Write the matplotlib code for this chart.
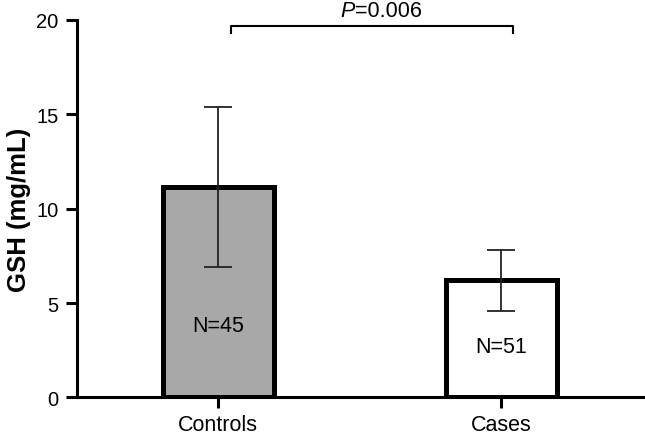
import matplotlib
matplotlib.use('Agg')
from matplotlib import pyplot as plt

# data
groups = ['Controls', 'Cases']
means = [11.15, 6.2]
sds = [4.25, 1.6]
n_labels = ['N=45', 'N=51']
n_pos = [3.8, 2.7]
bar_colors = ['#a8a8a8', 'white']
p_text = 'P=0.006'

plt.rcParams['font.family'] = ['Liberation Sans', 'DejaVu Sans']

fig = plt.figure(figsize=(6.45, 4.35), dpi=100)
ax = fig.add_axes([0.119, 0.084, 0.878, 0.868])

x = range(len(groups))
ax.bar(x, means, width=0.39, color=bar_colors, edgecolor='black', linewidth=3.6, zorder=2)
ax.errorbar(x, means, yerr=sds, fmt='none', ecolor='#222222', elinewidth=1.3,
            capsize=10, capthick=1.3, zorder=3)

for i in x:
    ax.text(i, n_pos[i], n_labels[i], ha='center', va='center', fontsize=15.5)

# significance bracket (sits a little right of the bar centres in the original)
bx = [0.045, 1.04]
ax.plot([bx[0], bx[0], bx[1], bx[1]], [19.3, 19.7, 19.7, 19.3], color='black', lw=1.5, clip_on=False)
mid = (bx[0] + bx[1]) / 2
ax.text(mid - 0.06, 20.2, p_text[:1], ha='right', va='baseline', fontsize=15.5, style='italic')
ax.text(mid - 0.06, 20.2, p_text[1:], ha='left', va='baseline', fontsize=15.5)

ax.set_xlim(-0.5, 1.5)
ax.set_ylim(0, 20)
ax.set_yticks([0, 5, 10, 15, 20])
ax.set_xticks(list(x))
ax.set_xticklabels(groups)
ax.set_ylabel('GSH (mg/mL)', fontsize=18.5, fontweight='bold', labelpad=4)

for s in ['top', 'right']:
    ax.spines[s].set_visible(False)
for s in ['left', 'bottom']:
    ax.spines[s].set_linewidth(2.2)
ax.tick_params(axis='both', width=2.2, length=8, pad=5)
ax.tick_params(axis='y', labelsize=14.5)
ax.tick_params(axis='x', labelsize=15.5, pad=4)

fig.savefig('out.png', dpi=100)
